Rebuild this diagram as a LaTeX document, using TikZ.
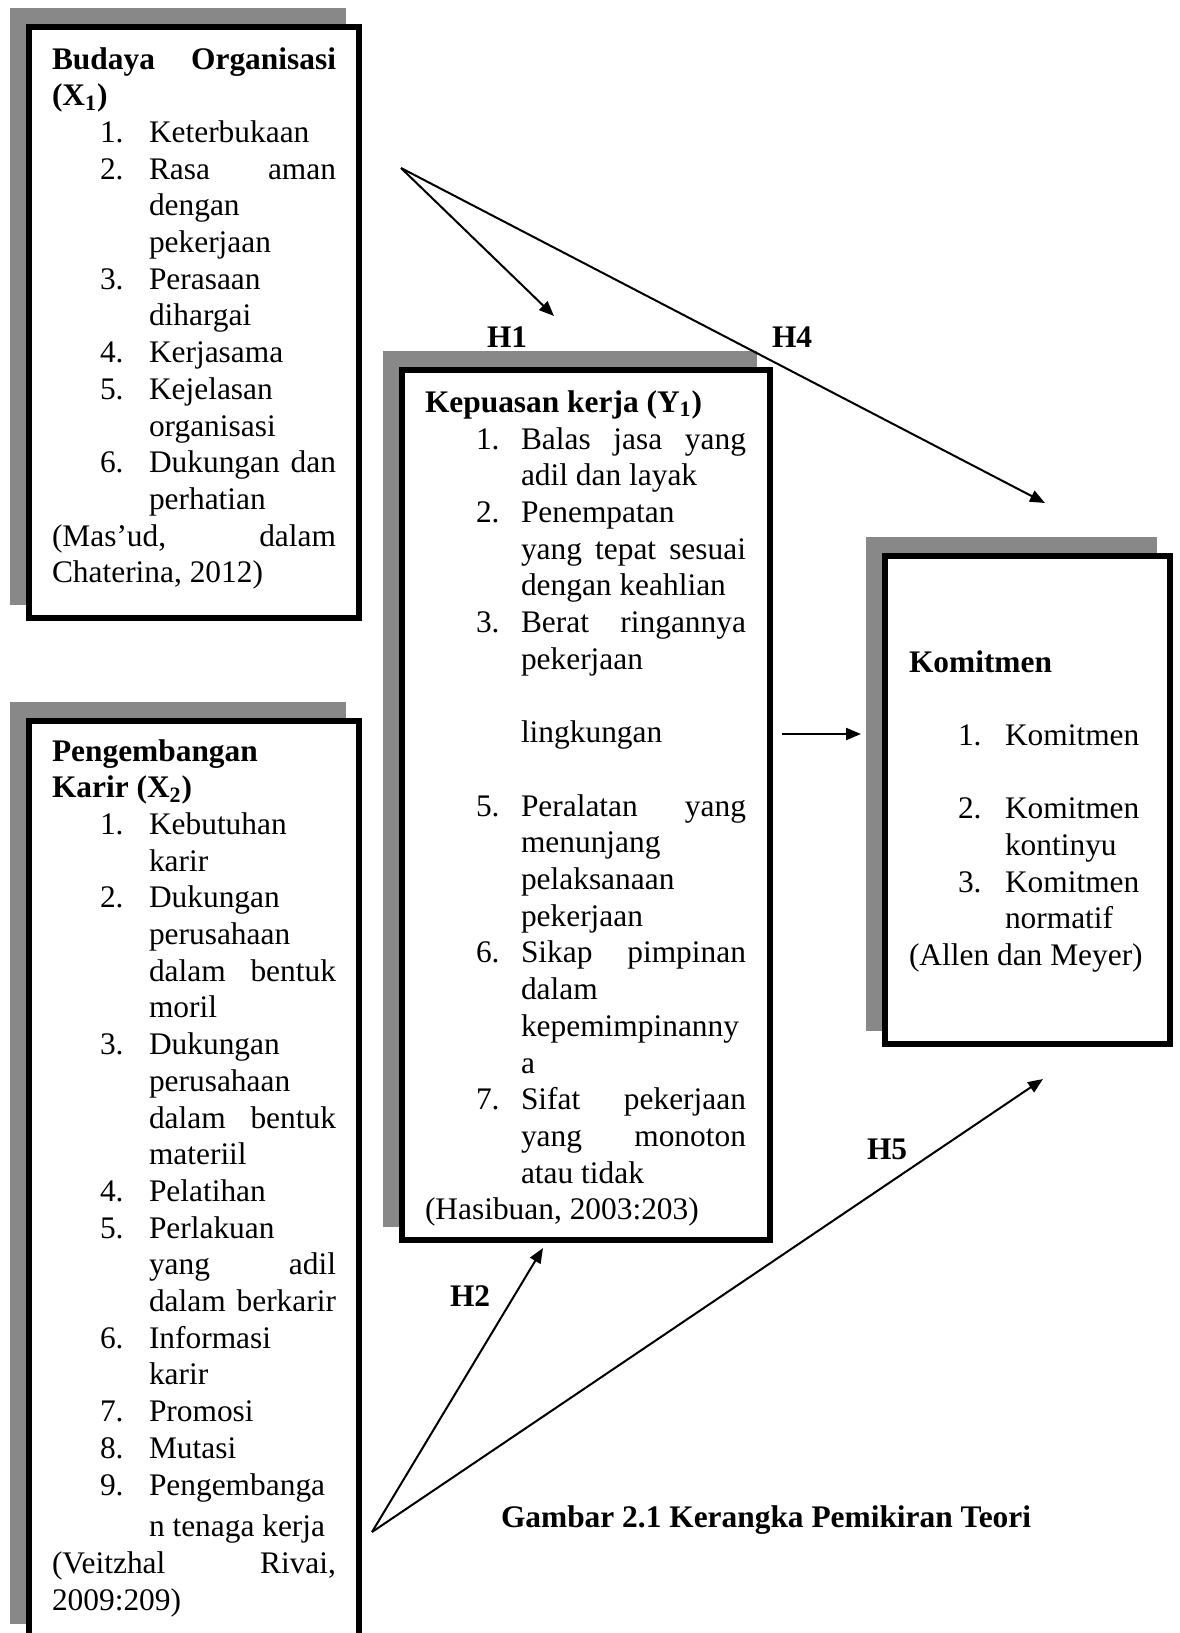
\documentclass[tikz,border=0pt]{standalone}
\usepackage{fontspec}
\setmainfont{Liberation Serif}
\usetikzlibrary{arrows.meta}
\newcounter{lncnt}
\newdimen\pxu \pxu=0.5pt
\newcommand{\Ln}[3]{\stepcounter{lncnt}\node[txt] (L\arabic{lncnt}) at (#1,#2) {#3};}
\newcommand{\Jl}[4]{\stepcounter{lncnt}\node[txt] (L\arabic{lncnt}) at (#1,#2) {\makebox[#3\pxu][s]{#4}};}
\definecolor{shadowgray}{RGB}{136,136,136}
\tikzset{
  txt/.style={anchor=base west, inner sep=0pt, outer sep=0pt, font=\fontsize{15.7}{18}\selectfont},
  boxst/.style={draw=black, fill=white, line width=3pt, inner sep=0pt, outer sep=0pt, rectangle},
  shadowst/.style={fill=shadowgray},
  arr/.style={line width=1pt, -{Triangle[length=7.5pt,width=6pt]}},
}
\begin{document}
\begin{tikzpicture}[x=0.5pt,y=-0.5pt]
\useasboundingbox (0,0) rectangle (1179,1633);
\clip (0,0) rectangle (1179,1633);
% shadows
\fill[shadowst] (10,8) rectangle (346,605);
\fill[shadowst] (10,702) rectangle (346,1624);
\fill[shadowst] (383,351) rectangle (757,1227);
\fill[shadowst] (866,537) rectangle (1157,1031);
% boxes
\node[boxst, minimum width=165pt, minimum height=295.5pt] (bx1) at (194,322.5) {};
\node[boxst, minimum width=165pt, minimum height=458pt] (bx2) at (194,1179) {};
\node[boxst, minimum width=184pt, minimum height=435pt] (by1) at (586,805) {};
\node[boxst, minimum width=142.5pt, minimum height=244pt] (bz) at (1027.5,800) {};
% ---- Box 1 text
\Jl{52}{69}{284}{\textbf{Budaya Organisasi}}
\Ln{52}{105.7}{\textbf{(X\textsubscript{1})}}
\Ln{100}{142.4}{1.}\Ln{149}{142.4}{Keterbukaan}
\Ln{100}{179.1}{2.}\Jl{149}{179.1}{187}{Rasa aman}
\Ln{149}{215.8}{dengan}
\Ln{149}{252.5}{pekerjaan}
\Ln{100}{289.2}{3.}\Ln{149}{289.2}{Perasaan}
\Ln{149}{325.9}{dihargai}
\Ln{100}{362.6}{4.}\Ln{149}{362.6}{Kerjasama}
\Ln{100}{399.3}{5.}\Ln{149}{399.3}{Kejelasan}
\Ln{149}{436.0}{organisasi}
\Ln{100}{472.7}{6.}\Jl{149}{472.7}{187}{Dukungan dan}
\Ln{149}{509.4}{perhatian}
\Jl{52}{546.1}{284}{(Mas'ud, dalam}
\Ln{52}{582.8}{Chaterina, 2012)}
% ---- Box 2 text
\Ln{52}{761}{\textbf{Pengembangan}}
\Ln{52}{797.7}{\textbf{Karir (X\textsubscript{2})}}
\Ln{100}{834.4}{1.}\Ln{149}{834.4}{Kebutuhan}
\Ln{149}{871.1}{karir}
\Ln{100}{907.8}{2.}\Ln{149}{907.8}{Dukungan}
\Ln{149}{944.5}{perusahaan}
\Jl{149}{981.2}{187}{dalam bentuk}
\Ln{149}{1017.9}{moril}
\Ln{100}{1054.6}{3.}\Ln{149}{1054.6}{Dukungan}
\Ln{149}{1091.3}{perusahaan}
\Jl{149}{1128}{187}{dalam bentuk}
\Ln{149}{1164.7}{materiil}
\Ln{100}{1201.4}{4.}\Ln{149}{1201.4}{Pelatihan}
\Ln{100}{1238.1}{5.}\Ln{149}{1238.1}{Perlakuan}
\Jl{149}{1274.8}{187}{yang adil}
\Jl{149}{1311.5}{187}{dalam berkarir}
\Ln{100}{1348.2}{6.}\Ln{149}{1348.2}{Informasi}
\Ln{149}{1384.9}{karir}
\Ln{100}{1421.6}{7.}\Ln{149}{1421.6}{Promosi}
\Ln{100}{1458.3}{8.}\Ln{149}{1458.3}{Mutasi}
\Ln{100}{1495}{9.}\Ln{149}{1495}{Pengembanga}
\Ln{149}{1536.7}{n tenaga kerja}
\Jl{52}{1573.4}{284}{(Veitzhal Rivai,}
\Ln{52}{1610.1}{2009:209)}
% ---- Box 3 text
\Ln{425}{412.4}{\textbf{Kepuasan kerja (Y\textsubscript{1})}}
\Ln{476}{449.1}{1.}\Jl{521}{449.1}{225}{Balas jasa yang}
\Ln{521}{485.8}{adil dan layak}
\Ln{476}{522.5}{2.}\Ln{521}{522.5}{Penempatan}
\Jl{521}{559.2}{225}{yang tepat sesuai}
\Ln{521}{595.9}{dengan keahlian}
\Ln{476}{632.6}{3.}\Jl{521}{632.6}{225}{Berat ringannya}
\Ln{521}{669.3}{pekerjaan}
\Ln{521}{742.7}{lingkungan}
\Ln{476}{816.1}{5.}\Jl{521}{816.1}{225}{Peralatan yang}
\Ln{521}{852.8}{menunjang}
\Ln{521}{889.5}{pelaksanaan}
\Ln{521}{926.2}{pekerjaan}
\Ln{476}{962.9}{6.}\Jl{521}{962.9}{225}{Sikap pimpinan}
\Ln{521}{999.6}{dalam}
\Ln{521}{1036.3}{kepemimpinanny}
\Ln{521}{1073}{a}
\Ln{476}{1109.7}{7.}\Jl{521}{1109.7}{225}{Sifat pekerjaan}
\Jl{521}{1146.4}{225}{yang monoton}
\Ln{521}{1183.1}{atau tidak}
\Ln{425}{1219.8}{(Hasibuan, 2003:203)}
% ---- Box 4 text
\Ln{909}{672}{\textbf{Komitmen}}
\Ln{958}{745.4}{1.}\Ln{1005}{745.4}{Komitmen}
\Ln{958}{818.8}{2.}\Ln{1005}{818.8}{Komitmen}
\Ln{1005}{855.5}{kontinyu}
\Ln{958}{892.2}{3.}\Ln{1005}{892.2}{Komitmen}
\Ln{1005}{928.9}{normatif}
\Ln{909}{965.6}{(Allen dan Meyer)}
% ---- labels
\node[txt] (h1) at (487,347) {\textbf{H1}};
\node[txt] (h4) at (772,347) {\textbf{H4}};
\node[txt] (h2) at (450,1306) {\textbf{H2}};
\node[txt] (h5) at (867,1159) {\textbf{H5}};
\node[txt] (cap) at (501,1527) {\textbf{Gambar 2.1 Kerangka Pemikiran Teori}};
% ---- connectors
\coordinate (s1) at (401,168);
\coordinate (t1) at (554,316);
\coordinate (t4) at (1045,503);
\coordinate (m0) at (782,734);
\coordinate (m1) at (861,734);
\coordinate (s2) at (372,1532);
\coordinate (t2) at (543,1248);
\coordinate (t5) at (1043,1079);
\draw[arr] (s1) -- (t1);
\draw[arr] (s1) -- (t4);
\draw[arr] (m0) -- (m1);
\draw[arr] (s2) -- (t2);
\draw[arr] (s2) -- (t5);
\end{tikzpicture}
\end{document}
